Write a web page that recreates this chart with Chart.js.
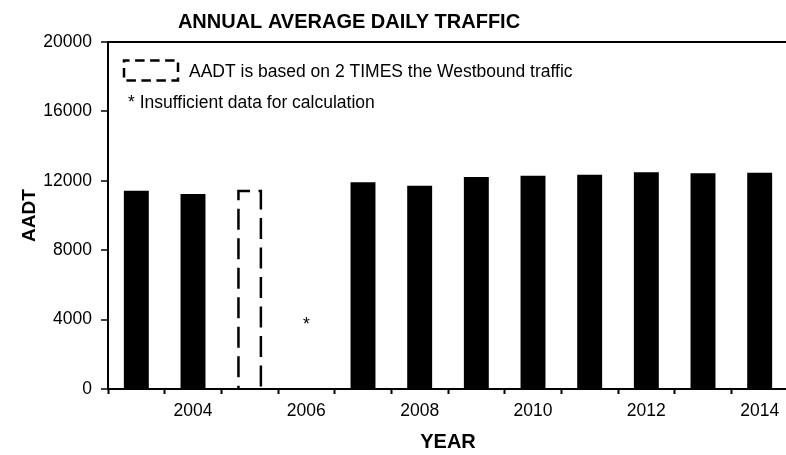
<!DOCTYPE html>
<html>
<head>
<meta charset="utf-8">
<script src="https://cdn.jsdelivr.net/npm/chart.js@4.4.1/dist/chart.umd.min.js"></script>
<style>
html, body { margin: 0; padding: 0; background: #fff; overflow: hidden; }
canvas { display: block; }
</style>
</head>
<body>
<canvas id="c" width="788" height="455"></canvas>
<script>
// ---- data ----
const years = ['2003', '2004', '2005', '2006', '2007', '2008', '2009', '2010', '2011', '2012', '2013', '2014'];
const aadt = [11430, 11240, null, null, 11910, 11720, 12220, 12290, 12350, 12500, 12430, 12470];
const aadtWestboundTimes2 = [null, null, 11490, null, null, null, null, null, null, null, null, null];
const insufficientYears = ['2006'];
const insufficientNoteLevel = [3700];
const yTicks = [0, 4000, 8000, 12000, 16000, 20000];
const xLabelYears = ['2004', '2006', '2008', '2010', '2012', '2014'];
const chartTitle = 'ANNUAL AVERAGE DAILY TRAFFIC';
const xTitle = 'YEAR';
const yTitle = 'AADT';
const legendDashedText = 'AADT is based on 2 TIMES the Westbound traffic';
const legendNoteText = '* Insufficient data for calculation';

const FAMILY = '"Liberation Sans", Arial, sans-serif';

const decorPlugin = {
  id: 'decor',
  afterDatasetsDraw(chart) {
    const ctx = chart.ctx;
    const xs = chart.scales.x, ys = chart.scales.y;
    // dashed bars (2 x westbound)
    const meta = chart.getDatasetMeta(1);
    meta.data.forEach((bar, i) => {
      if (aadtWestboundTimes2[i] == null) return;
      const p = bar.getProps(['x', 'y', 'base', 'width'], true);
      const lw = 2.5;
      const l = p.x - p.width / 2 + lw / 2, r = p.x + p.width / 2 - lw / 2, t = p.y + lw / 2;
      ctx.save();
      ctx.strokeStyle = '#000';
      ctx.lineWidth = lw;
      ctx.setLineDash([21, 8.5]);
      ctx.lineDashOffset = 18.8;
      ctx.beginPath();
      ctx.moveTo(l, p.base);
      ctx.lineTo(l, t);
      ctx.lineTo(r, t);
      ctx.lineTo(r, p.base);
      ctx.stroke();
      ctx.restore();
    });
    // asterisk notes
    ctx.save();
    ctx.fillStyle = '#000';
    ctx.font = '17.5px ' + FAMILY;
    ctx.textAlign = 'center';
    ctx.textBaseline = 'middle';
    insufficientYears.forEach((yr, k) => {
      const x = xs.getPixelForValue(years.indexOf(yr));
      const y = ys.getPixelForValue(insufficientNoteLevel[k]);
      ctx.fillText('*', x, y);
    });
    ctx.restore();
  },
  afterDraw(chart) {
    const ctx = chart.ctx;
    const a = chart.chartArea;
    ctx.save();
    // title
    ctx.fillStyle = '#000';
    ctx.font = 'bold 20px ' + FAMILY;
    ctx.textAlign = 'center';
    ctx.textBaseline = 'alphabetic';
    ctx.fillText(chartTitle, 349, 28);
    // legend: dashed box
    const bx = a.left + 16, by = a.top + 18.5, bw = 54, bh = 20;
    ctx.strokeStyle = '#000';
    ctx.lineWidth = 2.5;
    ctx.setLineDash([9.5, 5.5]);
    ctx.lineDashOffset = 3.9;
    ctx.strokeRect(bx, by, bw, bh);
    ctx.setLineDash([]);
    ctx.font = '17.5px ' + FAMILY;
    ctx.textAlign = 'left';
    ctx.textBaseline = 'middle';
    ctx.fillText(legendDashedText, a.left + 81, a.top + 30);
    ctx.fillText(legendNoteText, a.left + 20, a.top + 61);
    ctx.restore();
  }
};

new Chart(document.getElementById('c'), {
  type: 'bar',
  data: {
    labels: years,
    datasets: [
      {
        label: 'AADT',
        data: aadt,
        backgroundColor: '#000',
        borderWidth: 0,
        grouped: false,
        barPercentage: 0.44,
        categoryPercentage: 1.0
      },
      {
        label: 'AADT (2 x Westbound)',
        data: aadtWestboundTimes2,
        backgroundColor: 'rgba(0,0,0,0)',
        borderWidth: 0,
        grouped: false,
        barPercentage: 0.44,
        categoryPercentage: 1.0
      }
    ]
  },
  options: {
    responsive: false,
    animation: false,
    layout: { padding: { top: 42, right: 0, bottom: 0, left: 0 } },
    plugins: {
      legend: { display: false },
      title: { display: false },
      tooltip: { enabled: false }
    },
    scales: {
      x: {
        offset: true,
        grid: {
          display: true,
          offset: true,
          drawOnChartArea: false,
          color: 'rgba(0,0,0,0)',
          tickColor: '#000',
          tickLength: 5,
          tickWidth: 2
        },
        border: { display: true, color: '#000', width: 2 },
        ticks: {
          autoSkip: false,
          maxRotation: 0,
          padding: 7,
          color: '#000',
          font: { family: FAMILY, size: 17.5 },
          callback: (v, i) => (xLabelYears.includes(years[i]) ? years[i] : '')
        },
        title: {
          display: true,
          text: xTitle,
          color: '#000',
          font: { family: FAMILY, size: 20, weight: 'bold' },
          padding: { top: 0, bottom: 1 }
        },
        afterFit: s => { s.height = 66; }
      },
      y: {
        min: 0,
        max: 20000,
        afterBuildTicks: s => { s.ticks = yTicks.map(v => ({ value: v })); },
        grid: {
          display: true,
          color: c => (c.tick && c.tick.value === yTicks[yTicks.length - 1] ? '#000' : 'rgba(0,0,0,0)'),
          lineWidth: 2,
          tickColor: '#000',
          tickLength: 7,
          tickWidth: 1.5
        },
        border: { display: true, color: '#000', width: 2 },
        ticks: {
          padding: 9,
          color: '#000',
          font: { family: FAMILY, size: 17.5 },
          callback: v => String(v)
        },
        title: {
          display: true,
          text: yTitle,
          color: '#000',
          font: { family: FAMILY, size: 19, weight: 'bold' },
          padding: { top: 18, bottom: 0 }
        },
        afterFit: s => { s.width = 108; }
      }
    }
  },
  plugins: [decorPlugin]
});
</script>
</body>
</html>
